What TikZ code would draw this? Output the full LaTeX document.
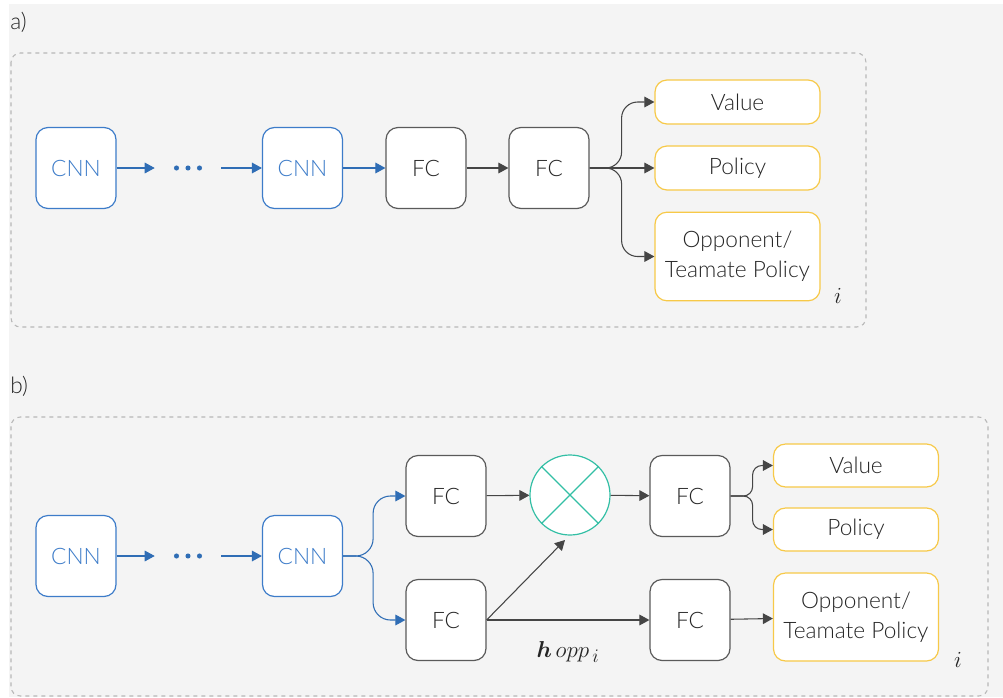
\documentclass[tikz,border=0pt]{standalone}
\usepackage{fontspec}
\usepackage{bm}
\setmainfont{Lato}[UprightFont=* Light, BoldFont=* Regular]
\usetikzlibrary{arrows.meta,calc}
\definecolor{bgc}{HTML}{F4F4F4}
\definecolor{dashc}{HTML}{B8B8B8}
\definecolor{cnnc}{HTML}{3D7CC9}
\definecolor{cnnarr}{HTML}{2F6DB5}
\definecolor{fcc}{HTML}{5A5A5A}
\definecolor{arrc}{HTML}{454545}
\definecolor{outc}{HTML}{F7C948}
\definecolor{mulc}{HTML}{33BFA5}
\definecolor{txtc}{HTML}{262626}
\tikzset{
  block/.style={rectangle, rounded corners=9pt, fill=white, line width=0.9pt,
    minimum width=60pt, minimum height=60.75pt, inner sep=0pt,
    font=\fontsize{17}{22.5}\selectfont, text=txtc},
  cnnbox/.style={block, draw=cnnc, text=cnnc},
  fcbox/.style={block, draw=fcc},
  outbox/.style={block, draw=outc, minimum width=123.75pt, minimum height=33pt, align=center},
  oppbox/.style={outbox, minimum height=66.5pt},
  dotsnode/.style={minimum width=49.5pt, minimum height=10pt, inner sep=0pt},
  garr/.style={draw=arrc, line width=0.8pt, -{Triangle[length=7.5pt,width=8pt]}},
  barr/.style={draw=cnnarr, line width=0.8pt, -{Triangle[length=7.5pt,width=8pt]}},
  frame/.style={draw=dashc, line width=0.8pt, dash pattern=on 3pt off 3pt, rounded corners=7pt},
  tag/.style={font=\fontsize{17}{20}\selectfont, text=txtc, anchor=west, inner sep=0pt},
  idx/.style={text=txtc, font=\fontsize{18}{20}\selectfont, inner sep=0pt},
  mulnode/.style={circle, draw=mulc, fill=white, line width=0.9pt, minimum size=60pt, inner sep=0pt}
}
\newcommand{\drawdots}[1]{%
  \foreach \dx in {-11.5,0,11.5}{\fill[cnnarr] ($(#1.center)+(\dx,0)$) circle (1.9pt);}}
\begin{document}
\begin{tikzpicture}[x=0.75pt, y=-0.75pt]
\useasboundingbox (0,0) rectangle (1003,697);
\fill[bgc] (9,4) rectangle (1003,697);

% ---------- a) shared trunk ----------
\node[tag] (la) at (10,22) {a)};
\draw[frame] (11,53) rectangle (866,327);

\node[cnnbox] (a1) at (76,168) {CNN};
\node[dotsnode] (ad) at (188,168) {};
\node[cnnbox] (a2) at (302.5,168) {CNN};
\node[fcbox] (af1) at (426,168) {FC};
\node[fcbox] (af2) at (549,168) {FC};
\node[outbox] (av) at (737.5,102) {Value};
\node[outbox] (ap) at (737.5,168) {Policy};
\node[oppbox] (ao) at (737.5,256.5) {Opponent/\\Teamate Policy};
\node[idx] (ai) at (838,296) {$i$};
\drawdots{ad}

\draw[barr] (a1) -- (ad);
\draw[barr] (ad) -- (a2);
\draw[barr] (a2) -- (af1);
\draw[garr] (af1) -- (af2);
\draw[garr, rounded corners=12pt] (af2.east) -- ++(32,0) |- (av.west);
\draw[garr] (af2) -- (ap);
\draw[garr, rounded corners=12pt] (af2.east) -- ++(32,0) |- (ao.west);

% ---------- b) split heads ----------
\node[tag] (lb) at (10,386) {b)};
\draw[frame] (11,417) rectangle (988,696);

\node[cnnbox] (b1) at (76,556) {CNN};
\node[dotsnode] (bd) at (188,556) {};
\node[cnnbox] (b2) at (302.5,556) {CNN};
\node[fcbox] (bt) at (446,496) {FC};
\node[fcbox] (bb) at (446,620) {FC};
\node[mulnode] (mul) at (570,495) {};
\node[fcbox] (b3) at (690,496) {FC};
\node[fcbox] (b4) at (690,620) {FC};
\node[outbox, minimum height=32.25pt] (bv) at (856,465.5) {Value};
\node[outbox, minimum height=32.25pt] (bp) at (856,529.5) {Policy};
\node[oppbox, minimum height=66pt] (bo) at (856,617) {Opponent/\\Teamate Policy};
\node[idx] (bi) at (958,660) {$i$};
\node[idx, font=\fontsize{19}{20}\selectfont] (hl) at (568,652) {$\bm{h}\,opp_{\,i}$};
\coordinate (mulin) at (565,540);
\drawdots{bd}
\draw[mulc, line width=0.9pt] (mul.north east) -- (mul.south west)
  (mul.north west) -- (mul.south east);

\draw[barr] (b1) -- (bd);
\draw[barr] (bd) -- (b2);
\draw[barr, rounded corners=13pt] (b2.east) -- ++(30,0) |- (bt.west);
\draw[barr, rounded corners=13pt] (b2.east) -- ++(30,0) |- (bb.west);
\draw[garr] (bt) -- (mul);
\draw[garr] (bb.east) -- (mulin);
\draw[garr] (bb) -- (b4);
\draw[garr] (mul) -- (b3);
\draw[garr, rounded corners=7pt] (b3.east) -- ++(22,0) |- (bv.west);
\draw[garr, rounded corners=7pt] (b3.east) -- ++(22,0) |- (bp.west);
\draw[garr] (b4) -- (bo);
\end{tikzpicture}
\end{document}
